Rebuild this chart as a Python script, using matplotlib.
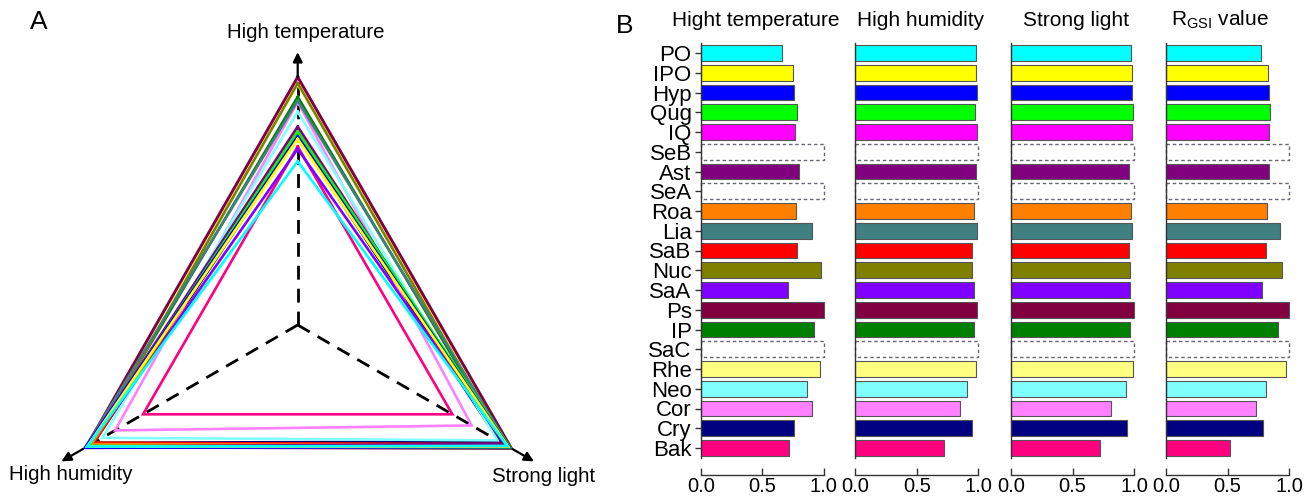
import numpy as np
import matplotlib
matplotlib.use("Agg")
import matplotlib.pyplot as plt
from matplotlib.patches import Rectangle

plt.rcParams['font.family'] = ['Liberation Sans', 'DejaVu Sans']
plt.rcParams['mathtext.fontset'] = 'custom'
plt.rcParams['mathtext.rm'] = 'Liberation Sans'
plt.rcParams['lines.scale_dashes'] = False

nan = np.nan
species = ['PO', 'IPO', 'Hyp', 'Qug', 'IQ', 'SeB', 'Ast', 'SeA', 'Roa', 'Lia', 'SaB',
           'Nuc', 'SaA', 'Ps', 'IP', 'SaC', 'Rhe', 'Neo', 'Cor', 'Cry', 'Bak']
colors = ['#00FFFF', '#FFFF00', '#0000FF', '#00FF00', '#FF00FF', 'none', '#800080', 'none',
          '#FF8000', '#408080', '#FF0000', '#808000', '#8000FF', '#800040', '#008000', 'none',
          '#FFFF80', '#80FFFF', '#FF80FF', '#000080', '#FF0080']
temp = [0.66, 0.75, 0.76, 0.78, 0.765, nan, 0.80, nan, 0.775, 0.905, 0.78,
        0.975, 0.71, 1.0, 0.92, nan, 0.97, 0.86, 0.90, 0.76, 0.72]
hum = [0.98, 0.98, 0.99, 0.975, 0.99, nan, 0.98, nan, 0.96, 0.99, 0.95,
       0.95, 0.96, 0.985, 0.965, nan, 0.98, 0.91, 0.85, 0.95, 0.72]
light = [0.975, 0.98, 0.985, 0.99, 0.985, nan, 0.96, nan, 0.97, 0.985, 0.96,
         0.965, 0.965, 0.995, 0.965, nan, 0.99, 0.93, 0.81, 0.94, 0.72]
rgsi = [0.775, 0.825, 0.833, 0.846, 0.838, nan, 0.838, nan, 0.82, 0.925, 0.815,
        0.94, 0.78, 1.0, 0.91, nan, 0.97, 0.815, 0.73, 0.79, 0.52]
missing_value = 1.0  # dashed placeholder bars

col_titles = ['Hight temperature', 'High humidity', 'Strong light', r'R$_{\rm GSI}$ value']
col_values = [temp, hum, light, rgsi]
radar_labels = ['High temperature', 'High humidity', 'Strong light']
xticks = [0.0, 0.5, 1.0]
xticklabels = ['0.0', '0.5', '1.0']

W, H = 1306, 496
fig = plt.figure(figsize=(W / 100, H / 100), dpi=100)

# ---------------- Panel A: radar triangles ----------------
axA = fig.add_axes([0, 0, 600 / W, 1])
unit = 248.0
cx, cy = 297.7, 325.0
axA.set_xlim(-cx / unit, (600 - cx) / unit)
axA.set_ylim(-(H - cy) / unit, cy / unit)
axA.axis('off')

angles = np.deg2rad([90, 210, 330])
dirs = np.column_stack([np.cos(angles), np.sin(angles)])

for d in dirs:
    axA.plot([0, d[0]], [0, d[1]], color='black', lw=2.0, dashes=(10, 6.5),
             solid_capstyle='butt', zorder=1)
    axA.annotate('', xy=(1.1 * d[0], 1.1 * d[1]), xytext=(1.0 * d[0], 1.0 * d[1]),
                 arrowprops=dict(arrowstyle='-|>', color='black', lw=1.6,
                                 mutation_scale=14, shrinkA=0, shrinkB=0), zorder=3)

order = list(range(len(species)))[::-1]
for i in order:
    vals = [temp[i], hum[i], light[i]]
    if np.isnan(vals).any():
        continue
    pts = dirs * np.array(vals)[:, None]
    pts = np.vstack([pts, pts[:1]])
    lw = 1.9 if species[i] != 'Ps' else 2.1
    axA.plot(pts[:, 0], pts[:, 1], color=colors[i], lw=lw, zorder=2,
             solid_joinstyle='miter')

axA.text((306 - cx) / unit, (cy - 33) / unit, radar_labels[0], ha='center', va='center', fontsize=14.7)
axA.text((71 - cx) / unit, (cy - 475) / unit, radar_labels[1], ha='center', va='center', fontsize=14.7)
axA.text((544 - cx) / unit, (cy - 476) / unit, radar_labels[2], ha='center', va='center', fontsize=14.7)
fig.text(39 / W, 1 - 22 / H, 'A', ha='center', va='center', fontsize=19)

# ---------------- Panel B: bar columns ----------------
fig.text(625 / W, 1 - 26 / H, 'B', ha='center', va='center', fontsize=19)

x0s = [700.7, 855.3, 1011.0, 1166.0]
colw = 123.2
row_h = 19.75
top_px = 53 - 0.5 * row_h
bot_px = 448 + 0.5 * row_h
ypos = np.arange(len(species))
title_centers = [756, 921, 1076, 1220]

for k, (x0, vals) in enumerate(zip(x0s, col_values)):
    ax = fig.add_axes([x0 / W, 1 - bot_px / H, colw / W, (bot_px - top_px) / H])
    ax.set_xlim(0, 1)
    ax.set_ylim(len(species) - 0.5, -0.5)
    for i, v in enumerate(vals):
        if np.isnan(v):
            r = Rectangle((0, i - 0.4), missing_value, 0.8, facecolor='none',
                          edgecolor='#666677', lw=1.0, linestyle=(0, (2.5, 2)),
                          clip_on=False, zorder=2)
            ax.add_patch(r)
        else:
            ax.barh(i, v, height=0.8, color=colors[i], edgecolor='#555555',
                    lw=0.8, clip_on=False, zorder=2)
    for s in ['top', 'right']:
        ax.spines[s].set_visible(False)
    ax.spines['left'].set_color('#333333')
    ax.spines['left'].set_linewidth(1.0)
    ax.spines['bottom'].set_position(('outward', 12))
    ax.spines['bottom'].set_color('#333333')
    ax.spines['bottom'].set_linewidth(1.0)
    ax.set_xticks(xticks)
    ax.set_xticklabels(xticklabels, fontsize=14.5)
    ax.tick_params(axis='x', direction='in', length=5, width=1.0, color='#333333', pad=2)
    if k == 0:
        ax.set_yticks(ypos)
        ax.set_yticklabels(species, fontsize=16)
        ax.tick_params(axis='y', direction='out', length=4.5, width=1.0,
                       color='#333333', pad=2)
    else:
        ax.set_yticks([])
    fig.text(title_centers[k] / W, 1 - 20 / H, col_titles[k], ha='center',
             va='center', fontsize=15)

fig.savefig('out.png', dpi=100)
